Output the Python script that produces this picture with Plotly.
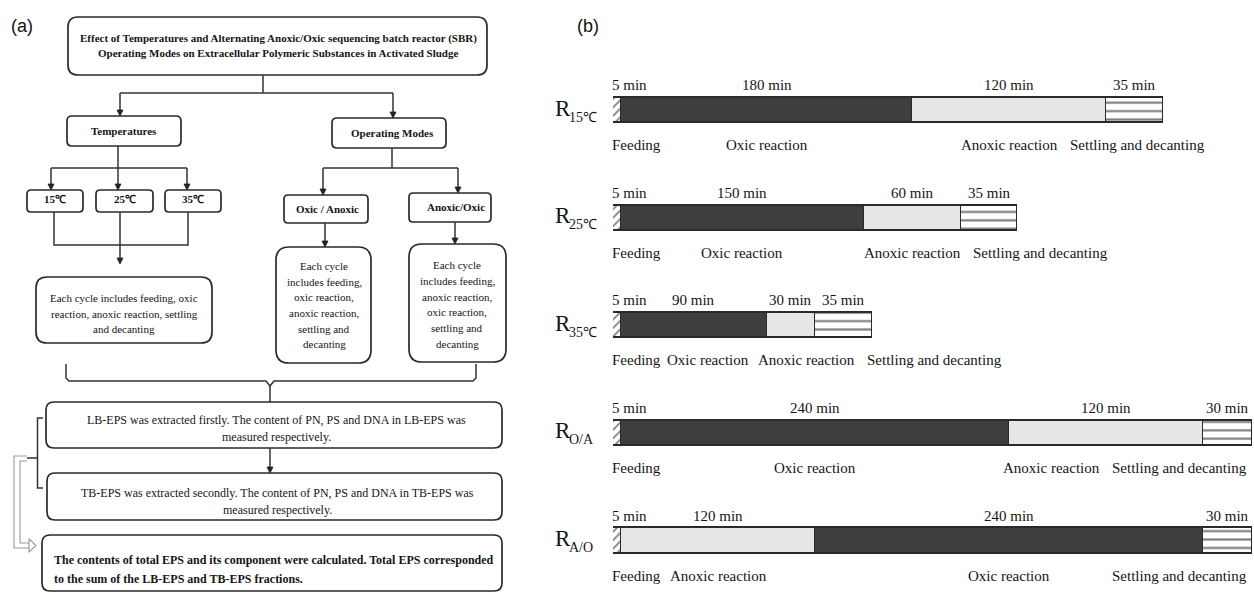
import plotly.graph_objects as go

W, H = 1254, 592

# ---------------- panel (b): SBR operating cycles ----------------
reactors = ["R15", "R25", "R35", "RO/A", "RA/O"]
reactor_subscripts = ["15℃", "25℃", "35℃", "O/A", "A/O"]
feeding_min = [5, 5, 5, 5, 5]
stage1_phase = ["Oxic", "Oxic", "Oxic", "Oxic", "Anoxic"]
stage1_min = [180, 150, 90, 240, 120]
stage2_phase = ["Anoxic", "Anoxic", "Anoxic", "Anoxic", "Oxic"]
stage2_min = [120, 60, 30, 120, 240]
settling_min = [35, 35, 35, 30, 30]

phase_color = {"Oxic": "#3e3e3e", "Anoxic": "#e6e6e6"}
phase_name = {"Oxic": "Oxic reaction", "Anoxic": "Anoxic reaction"}

SERIF = "Liberation Serif"
INK = "#151515"
EDGE = "#2a2a2a"

# timeline axis placement (pixels)
TL_LEFT, TL_RIGHT = 613, 1252
ROW0_Y, ROW_STEP = 110.3, 107.55

fig = go.Figure()

bar_common = dict(orientation="h", y=reactors, xaxis="x2", yaxis="y2", width=0.233,
                  showlegend=False, hoverinfo="skip")
edge = dict(color=EDGE, width=1.3)

fig.add_trace(go.Bar(
    x=feeding_min,
    marker=dict(color="white", line=edge,
                pattern=dict(shape="/", fgcolor="#000", bgcolor="white", size=6, solidity=0.3)),
    **bar_common))
fig.add_trace(go.Bar(
    x=stage1_min,
    marker=dict(color=[phase_color[p] for p in stage1_phase], line=edge),
    **bar_common))
fig.add_trace(go.Bar(
    x=stage2_min,
    marker=dict(color=[phase_color[p] for p in stage2_phase], line=edge),
    **bar_common))
fig.add_trace(go.Bar(
    x=settling_min,
    marker=dict(color="white", line=edge,
                pattern=dict(shape="-", fgcolor="#000", bgcolor="white", size=8.4, solidity=0.26)),
    **bar_common))

totals = [a + b + c + d for a, b, c, d in zip(feeding_min, stage1_min, stage2_min, settling_min)]
max_total = max(totals)
px_per_min = (TL_RIGHT - TL_LEFT) / max_total


def text_width_px(s, size):
    return 0.44 * size * len(s)


def spread(centers, widths, lo, hi, gap=6.0):
    """Shift label centres (minutes) so neighbouring labels do not overlap."""
    c = list(centers)
    for i in range(len(c)):
        left_edge = lo if i == 0 else c[i - 1] + widths[i - 1] / 2 + gap
        c[i] = max(c[i], left_edge + widths[i] / 2)
    if c[-1] + widths[-1] / 2 > hi:
        c[-1] = hi - widths[-1] / 2
    for i in range(len(c) - 2, -1, -1):
        c[i] = min(c[i], c[i + 1] - widths[i + 1] / 2 - gap - widths[i] / 2)
    return c


LABEL_SIZE = 15
annotations = []
for k, r in enumerate(reactors):
    segs = [feeding_min[k], stage1_min[k], stage2_min[k], settling_min[k]]
    names = ["Feeding", phase_name[stage1_phase[k]], phase_name[stage2_phase[k]],
             "Settling and decanting"]
    starts = [sum(segs[:i]) for i in range(4)]
    mids = [s + d / 2 for s, d in zip(starts, segs)]
    durs = [f"{d} min" for d in segs]
    w_to_min = lambda t: text_width_px(t, LABEL_SIZE) / px_per_min
    hi = (W - 2 - TL_LEFT) / px_per_min
    top_x = spread(mids, [w_to_min(t) for t in durs], 0, hi, 6 / px_per_min)
    bot_x = spread(mids, [w_to_min(t) for t in names], 0, hi, 6 / px_per_min)
    for x, t in zip(top_x, durs):
        annotations.append(dict(x=x, y=r, xref="x2", yref="y2", text=t, showarrow=False,
                                yshift=25, font=dict(family=SERIF, size=LABEL_SIZE, color=INK)))
    for x, t in zip(bot_x, names):
        annotations.append(dict(x=x, y=r, xref="x2", yref="y2", text=t, showarrow=False,
                                yshift=-35, font=dict(family=SERIF, size=LABEL_SIZE, color=INK)))
    # reactor name: R with its subscript
    annotations.append(dict(x=553, y=r, xref="x", yref="y2", text="R", showarrow=False,
                            xanchor="left", yanchor="middle", yshift=2,
                            font=dict(family=SERIF, size=23, color=INK)))
    annotations.append(dict(x=567, y=r, xref="x", yref="y2", text=reactor_subscripts[k],
                            showarrow=False, xanchor="left", yanchor="middle", yshift=-7,
                            font=dict(family=SERIF, size=14, color=INK)))

# ---------------- panel (a): experimental flowchart ----------------
shapes = []


def rbox(x0, y0, x1, y1, r=8, width=1.7):
    path = (f"M{x0 + r},{y0} L{x1 - r},{y0} Q{x1},{y0} {x1},{y0 + r} "
            f"L{x1},{y1 - r} Q{x1},{y1} {x1 - r},{y1} L{x0 + r},{y1} "
            f"Q{x0},{y1} {x0},{y1 - r} L{x0},{y0 + r} Q{x0},{y0} {x0 + r},{y0} Z")
    shapes.append(dict(type="path", path=path, xref="x", yref="y",
                       line=dict(color=EDGE, width=width), fillcolor="rgba(0,0,0,0)"))


def seg(points, color="#333", width=1.5):
    path = "M" + " L".join(f"{x},{y}" for x, y in points)
    shapes.append(dict(type="path", path=path, xref="x", yref="y",
                       line=dict(color=color, width=width)))


def arrow_down(x, y0, y1):
    seg([(x, y0), (x, y1 - 5)])
    shapes.append(dict(type="path", path=f"M{x - 3},{y1 - 6} L{x + 3},{y1 - 6} L{x},{y1} Z",
                       xref="x", yref="y", line=dict(color="#222", width=0.8),
                       fillcolor="#222"))


def label(x, y, text, size=11, bold=False, anchor="center"):
    annotations.append(dict(x=x, y=y, xref="x", yref="y", showarrow=False,
                            text=f"<b>{text}</b>" if bold else text, xanchor=anchor,
                            yanchor="middle",
                            font=dict(family=SERIF, size=size, color=INK)))


# boxes
rbox(68, 17, 487, 75, r=10)
rbox(67, 116, 181, 146, r=5)
rbox(332, 118, 446, 148, r=5)
rbox(27, 190, 83, 212, r=4)
rbox(96, 190, 153, 212, r=4)
rbox(165, 190, 221, 212, r=4)
rbox(284, 195, 368, 223, r=4)
rbox(409, 193, 491, 222, r=4)
rbox(36, 277, 212, 343, r=11)
rbox(276, 247, 371, 363, r=13)
rbox(409, 244, 506, 362, r=13)
rbox(46, 402, 502, 448, r=8)
rbox(47, 473, 502, 520, r=8)
rbox(42, 535, 502, 591, r=8)

# connectors
seg([(263, 75), (263, 93)])
seg([(120, 93), (393, 93)])
arrow_down(120, 93, 116)
arrow_down(393, 93, 118)
seg([(118, 146), (118, 168)])
seg([(51, 168), (187, 168)])
arrow_down(51, 168, 190)
arrow_down(118, 168, 190)
arrow_down(187, 168, 190)
seg([(392, 148), (392, 168)])
seg([(323, 168), (458, 168)])
arrow_down(323, 168, 195)
arrow_down(458, 168, 193)
seg([(54, 212), (54, 245), (188, 245), (188, 212)])
arrow_down(120, 212, 264)
arrow_down(325, 223, 247)
arrow_down(455, 222, 244)
# brace gathering the three cycle descriptions
seg([(66, 364), (66, 378), (69, 381), (266, 381), (270, 386), (274, 381), (473, 381),
     (476, 378), (476, 364)])
seg([(270, 386), (270, 402)])
arrow_down(270, 448, 473)
# bracket joining LB-EPS and TB-EPS, with the hollow arrow to the total
seg([(43, 418), (37.5, 418), (37.5, 488), (43, 488)])
seg([(27, 458), (37.5, 458)])
seg([(27, 456), (14, 456), (14, 548), (29, 548)], color="#9a9a9a", width=1.1)
seg([(27, 461), (20, 461), (20, 543), (29, 543)], color="#9a9a9a", width=1.1)
shapes.append(dict(type="path", path="M29,539 L36,545.5 L29,552 Z", xref="x", yref="y",
                   line=dict(color="#9a9a9a", width=1.1), fillcolor="white"))

# flowchart text
label(278, 38, "Effect of Temperatures and Alternating Anoxic/Oxic sequencing batch reactor (SBR)",
      11, True)
label(278, 53, "Operating Modes on Extracellular Polymeric Substances in Activated Sludge", 11, True)
label(124, 131, "Temperatures", 11, True)
label(392, 133, "Operating Modes", 11, True)
label(55, 199, "15℃", 11, True)
label(124.5, 199, "25℃", 11, True)
label(193, 199, "35℃", 11, True)
label(327, 209, "Oxic / Anoxic", 11, True)
label(456, 207, "Anoxic/Oxic", 11, True)
for yy, t in zip([298, 313.5, 329],
                 ["Each cycle includes feeding, oxic", "reaction, anoxic reaction, settling",
                  "and decanting"]):
    label(124, yy, t, 11)
for yy, t in zip([266, 282, 297, 313, 328.5, 344],
                 ["Each cycle", "includes feeding,", "oxic reaction,", "anoxic reaction,",
                  "settling and", "decanting"]):
    label(324, yy, t, 11)
for yy, t in zip([265, 281, 297, 312, 328, 344],
                 ["Each cycle", "includes feeding,", "anoxic reaction,", "oxic reaction,",
                  "settling and", "decanting"]):
    label(457, yy, t, 11)
label(276, 420, "LB-EPS was extracted firstly. The content of PN, PS and DNA in LB-EPS was", 12)
label(276, 437, "measured respectively.", 12)
label(277, 493, "TB-EPS was extracted secondly. The content of PN, PS and DNA in TB-EPS was", 12)
label(277, 509.5, "measured respectively.", 12)
label(52, 560, "The contents of total EPS and its component were calculated. Total EPS corresponded",
      12, True, anchor="left")
label(52, 579, "to the sum of the LB-EPS and TB-EPS fractions.", 12, True, anchor="left")

# panel letters
for x, t in [(22, "(a)"), (588, "(b)")]:
    annotations.append(dict(x=x, y=26, xref="x", yref="y", text=t, showarrow=False,
                            font=dict(family="Liberation Sans", size=18, color="#111")))

y2_top_px = ROW0_Y - ROW_STEP / 2
fig.update_layout(
    width=W, height=H, margin=dict(l=0, r=0, t=0, b=0),
    paper_bgcolor="white", plot_bgcolor="rgba(0,0,0,0)",
    barmode="stack", bargap=0,
    xaxis=dict(domain=[0, 1], range=[0, W], visible=False, fixedrange=True),
    yaxis=dict(domain=[0, 1], range=[H, 0], visible=False, fixedrange=True),
    xaxis2=dict(domain=[TL_LEFT / W, TL_RIGHT / W], range=[0, max_total], visible=False,
                anchor="y2", fixedrange=True),
    yaxis2=dict(domain=[0, 1 - y2_top_px / H], anchor="x2", type="category",
                range=[(H - ROW0_Y) / ROW_STEP, -0.5], visible=False, fixedrange=True),
    shapes=shapes, annotations=annotations,
)

fig.write_html("out.html")
